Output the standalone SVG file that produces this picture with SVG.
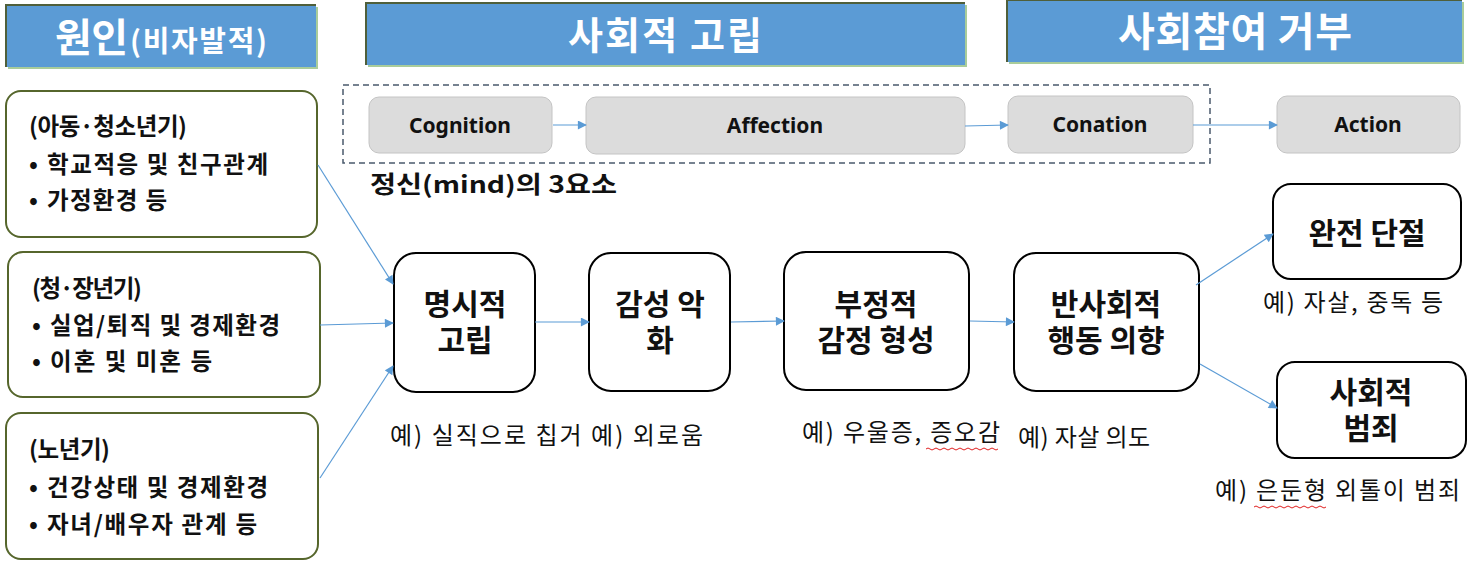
<svg xmlns="http://www.w3.org/2000/svg" width="1470" height="567" viewBox="0 0 1470 567">
<style>
.hdr{fill:#5B9BD5}
.hsh{fill:#A9CC9A}
.hedge{stroke:#4F5F3A;stroke-width:2;fill:none}
.htxt{font-family:"Noto Sans CJK KR","Liberation Sans",sans-serif;font-weight:700;fill:#fff}
.gbox{fill:#DCDCDC;stroke:#C4C4C4;stroke-width:1}
.gtxt{font-family:"Noto Sans","Liberation Sans",sans-serif;font-weight:700;font-size:21px;fill:#111;text-anchor:middle}
.lbox{fill:#fff;stroke:#56662C;stroke-width:2}
.ltxt{font-family:"Noto Sans CJK KR","Liberation Sans",sans-serif;font-weight:700;font-size:23.5px;fill:#111}
.mbox{fill:#fff;stroke:#000;stroke-width:2}
.mtxt{font-family:"Noto Sans CJK KR","Liberation Sans",sans-serif;font-weight:700;font-size:30px;fill:#111;text-anchor:middle}
.ex{font-family:"Noto Sans CJK KR","Liberation Sans",sans-serif;font-weight:400;font-size:24px;fill:#111}
.conn{stroke:#5B9BD5;stroke-width:1.2;fill:none;marker-end:url(#ah)}
.sq{stroke:#E02020;stroke-width:1;fill:none}
</style>
<defs>
<marker id="ah" viewBox="0 0 10 10" refX="9" refY="5" markerWidth="11" markerHeight="9" markerUnits="userSpaceOnUse" orient="auto">
<path d="M0,0 L10,5 L0,10 z" fill="#5B9BD5"/>
</marker>
</defs>
<rect width="1470" height="567" fill="#fff"/>

<g id="hdr-cause">
<rect class="hsh" x="8" y="7" width="310" height="62"/>
<rect class="hdr" x="6" y="5" width="310" height="62"/>
<path class="hedge" d="M6,67 L6,5 L316,5"/>
<text class="htxt" x="55" y="52" font-size="40" textLength="73">원인</text>
<text class="htxt" x="130" y="52" font-size="29" textLength="137">(비자발적)</text>
</g>
<g id="hdr-isolation">
<rect class="hsh" x="368" y="5" width="599" height="62"/>
<rect class="hdr" x="366" y="3" width="599" height="62"/>
<path class="hedge" d="M366,65 L366,3 L965,3"/>
<text class="htxt" x="568" y="49" font-size="38" textLength="194">사회적 고립</text>
</g>
<g id="hdr-refusal">
<rect class="hsh" x="1009" y="2" width="455" height="62"/>
<rect class="hdr" x="1007" y="0" width="455" height="62"/>
<path class="hedge" d="M1007,62 L1007,0 L1462,0"/>
<text class="htxt" x="1118" y="46" font-size="40" textLength="234">사회참여 거부</text>
</g>

<g id="mind-group">
<rect x="343" y="85" width="867" height="78" fill="none" stroke="#4A5A6C" stroke-width="1.5" stroke-dasharray="6,4"/>
<text class="ltxt" x="370" y="193" font-size="27" textLength="247" lengthAdjust="spacingAndGlyphs">정신(mind)의 3요소</text>
</g>
<g id="cognition"><rect class="gbox" x="369" y="97" width="183" height="56" rx="10"/><text class="gtxt" x="460" y="133">Cognition</text></g>
<g id="affection"><rect class="gbox" x="586" y="97" width="379" height="57" rx="10"/><text class="gtxt" x="775" y="133">Affection</text></g>
<g id="conation"><rect class="gbox" x="1008" y="96" width="185" height="57" rx="10"/><text class="gtxt" x="1100" y="132">Conation</text></g>
<g id="action"><rect class="gbox" x="1277" y="96" width="183" height="57" rx="10"/><text class="gtxt" x="1368" y="132">Action</text></g>

<g id="child">
<rect class="lbox" x="6" y="91" width="311" height="146" rx="15"/>
<text class="ltxt" x="29" y="135" textLength="158">(아동·청소년기)</text>
<text class="ltxt" x="29" y="173">•</text><text class="ltxt" x="47" y="173" textLength="221">학교적응 및 친구관계</text>
<text class="ltxt" x="29" y="209">•</text><text class="ltxt" x="47" y="209" textLength="120">가정환경 등</text>
</g>
<g id="adult">
<rect class="lbox" x="8" y="252" width="312" height="145" rx="15"/>
<text class="ltxt" x="32" y="297" textLength="110">(청·장년기)</text>
<text class="ltxt" x="32" y="334">•</text><text class="ltxt" x="50" y="334" textLength="230">실업/퇴직 및 경제환경</text>
<text class="ltxt" x="32" y="370">•</text><text class="ltxt" x="50" y="370" textLength="162">이혼 및 미혼 등</text>
</g>
<g id="elder">
<rect class="lbox" x="6" y="413" width="312" height="146" rx="15"/>
<text class="ltxt" x="29" y="458" textLength="81">(노년기)</text>
<text class="ltxt" x="29" y="496">•</text><text class="ltxt" x="47" y="496" textLength="221">건강상태 및 경제환경</text>
<text class="ltxt" x="29" y="533">•</text><text class="ltxt" x="47" y="533" textLength="210">자녀/배우자 관계 등</text>
</g>

<g id="explicit">
<rect class="mbox" x="394" y="253" width="141" height="139" rx="22"/>
<text class="mtxt" x="465" y="315">명시적</text><text class="mtxt" x="465" y="351">고립</text>
</g>
<g id="emotion">
<rect class="mbox" x="589" y="253" width="141" height="138" rx="22"/>
<text class="mtxt" x="660" y="315">감성 악</text><text class="mtxt" x="660" y="351">화</text>
</g>
<g id="negative">
<rect class="mbox" x="784" y="252" width="185" height="138" rx="22"/>
<text class="mtxt" x="876" y="315">부정적</text><text class="mtxt" x="876" y="351">감정 형성</text>
</g>
<g id="antisocial">
<rect class="mbox" x="1014" y="253" width="185" height="138" rx="22"/>
<text class="mtxt" x="1106" y="315">반사회적</text><text class="mtxt" x="1106" y="351">행동 의향</text>
</g>
<g id="disconnect">
<rect class="mbox" x="1273" y="184" width="188" height="95" rx="18"/>
<text class="mtxt" x="1367" y="244">완전 단절</text>
</g>
<g id="crime">
<rect class="mbox" x="1277" y="362" width="189" height="96" rx="18"/>
<text class="mtxt" x="1371" y="403">사회적</text><text class="mtxt" x="1371" y="439">범죄</text>
</g>

<g id="examples">
<text class="ex" x="390" y="444" textLength="313">예) 실직으로 칩거 예) 외로움</text>
<text class="ex" x="802" y="441" textLength="198">예) 우울증, 증오감</text>
<text class="ex" x="1018" y="446" textLength="132">예) 자살 의도</text>
<text class="ex" x="1263" y="311" textLength="180">예) 자살, 중독 등</text>
<text class="ex" x="1215" y="499" textLength="245">예) 은둔형 외톨이 범죄</text>
<path class="sq" d="M926,449 q2,-2 4,0 t4,0 t4,0 t4,0 t4,0 t4,0 t4,0 t4,0 t4,0 t4,0 t4,0 t4,0 t4,0 t4,0 t4,0 t4,0 t4,0 t4,0"/>
<path class="sq" d="M1254,507 q2,-2 4,0 t4,0 t4,0 t4,0 t4,0 t4,0 t4,0 t4,0 t4,0 t4,0 t4,0 t4,0 t4,0 t4,0 t4,0 t4,0 t4,0 t4,0"/>
</g>

<g id="connectors">
<line class="conn" x1="553" y1="125" x2="586" y2="125"/>
<line class="conn" x1="965" y1="126" x2="1008" y2="125"/>
<line class="conn" x1="1193" y1="125" x2="1277" y2="125"/>
<line class="conn" x1="318" y1="165" x2="393" y2="284"/>
<line class="conn" x1="320" y1="325" x2="393" y2="323"/>
<line class="conn" x1="320" y1="478" x2="393" y2="366"/>
<line class="conn" x1="535" y1="322" x2="589" y2="322"/>
<line class="conn" x1="731" y1="322" x2="784" y2="321"/>
<line class="conn" x1="970" y1="321" x2="1014" y2="322"/>
<line class="conn" x1="1196" y1="285" x2="1273" y2="234"/>
<line class="conn" x1="1200" y1="364" x2="1277" y2="408"/>
</g>
</svg>
